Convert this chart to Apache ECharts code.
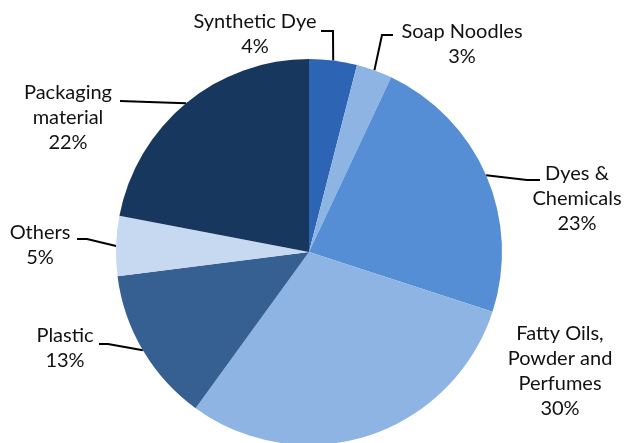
<!DOCTYPE html>
<html>
<head>
<meta charset="utf-8">
<style>
  html, body { margin: 0; padding: 0; background: #ffffff; }
  #chart { width: 625px; height: 443px; }
</style>
<script src="https://cdn.jsdelivr.net/npm/echarts@6/dist/echarts.min.js"></script>
</head>
<body>
<div id="chart"></div>
<script>
// Cost breakdown of soap manufacturing inputs (percent)
const categories = [
  'Synthetic Dye',
  'Soap Noodles',
  'Dyes &\nChemicals',
  'Fatty Oils,\nPowder and\nPerfumes',
  'Plastic',
  'Others',
  'Packaging\nmaterial'
];
const shares = [4, 3, 23, 30, 13, 5, 22];
const sliceColors = ['#2e64b4', '#8eb4e3', '#558ed5', '#8eb4e3', '#376092', '#c6d9f1', '#17375e'];

// label centres and leader-line elbows, in pixels
const labelSpots = [
  { x: 255, y: 34, elbow: [[333, 31], [321, 31]] },
  { x: 462, y: 44, elbow: [[382, 35], [393, 35]] },
  { x: 577, y: 199, elbow: [[527, 180], [540, 180]] },
  { x: 560, y: 371, elbow: null },
  { x: 65, y: 348, elbow: [[108, 344], [99, 344]] },
  { x: 40, y: 245, elbow: [[87, 239], [77, 239]] },
  { x: 68, y: 118, elbow: [[150, 101], [120, 101]] }
];

const chart = echarts.init(document.getElementById('chart'), null, { renderer: 'canvas' });

const data = categories.map((name, i) => ({
  name: name,
  value: shares[i],
  itemStyle: { color: sliceColors[i] },
  labelLine: { show: labelSpots[i].elbow !== null }
}));

chart.setOption({
  animation: false,
  backgroundColor: '#ffffff',
  series: [{
    type: 'pie',
    center: [309, 252],
    radius: [0, 193],
    startAngle: 90,
    clockwise: true,
    avoidLabelOverlap: false,
    data: data,
    itemStyle: { borderWidth: 0 },
    label: {
      show: true,
      position: 'outside',
      formatter: p => p.name + '\n' + p.value + '%',
      fontFamily: 'Lato',
      fontSize: 20,
      lineHeight: 25,
      color: '#111111',
      align: 'center'
    },
    labelLine: {
      show: true,
      lineStyle: { color: '#000000', width: 2 }
    },
    labelLayout: function (params) {
      const spot = labelSpots[params.dataIndex];
      const out = {
        x: spot.x,
        y: spot.y,
        align: 'center',
        verticalAlign: 'middle'
      };
      if (spot.elbow && params.labelLinePoints) {
        const start = params.labelLinePoints[0];
        if (params.dataIndex === 6) {
          out.labelLinePoints = [start, [start[0] - 30, start[1] - 1], spot.elbow[1]];
        } else {
          out.labelLinePoints = [start, spot.elbow[0], spot.elbow[1]];
        }
      }
      return out;
    }
  }]
});
</script>
</body>
</html>
